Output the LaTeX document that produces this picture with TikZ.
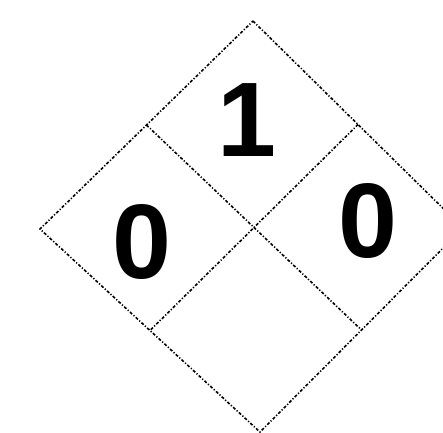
\documentclass[tikz,border=0pt]{standalone}
\usepackage{fontspec}
\setmainfont{Liberation Sans}
\usetikzlibrary{positioning, calc}

\begin{document}
\begin{tikzpicture}[
        x=1pt, y=-1pt,
        every node/.style={inner sep=0pt, font=\fontsize{106}{106}\selectfont\bfseries},
        edge/.style={line width=1.6pt, dash pattern=on 3pt off 1.8pt on 1.2pt off 1.8pt}
    ]

    \useasboundingbox (0,0) rectangle (443,432);
    \clip (0,0) rectangle (443,432);

    \coordinate (T) at (253,21);
    \coordinate (L) at (40,229);
    \coordinate (B) at (260,432);
    \coordinate (R) at (463,228);

    \coordinate (TL) at ($(T)!0.5!(L)$);
    \coordinate (TR) at ($(T)!0.5!(R)$);
    \coordinate (BL) at ($(B)!0.5!(L)$);
    \coordinate (BR) at ($(B)!0.5!(R)$);

    \draw[edge] (T) -- (R) -- (B) -- (L) -- cycle;
    \draw[edge] (TL) -- (BR);
    \draw[edge] (TR) -- (BL);

    \node (health) at (142,242) {0};
    \node (fire) at (247,120) {1};
    \node (react) at (368,221) {0};
\end{tikzpicture}
\end{document}
